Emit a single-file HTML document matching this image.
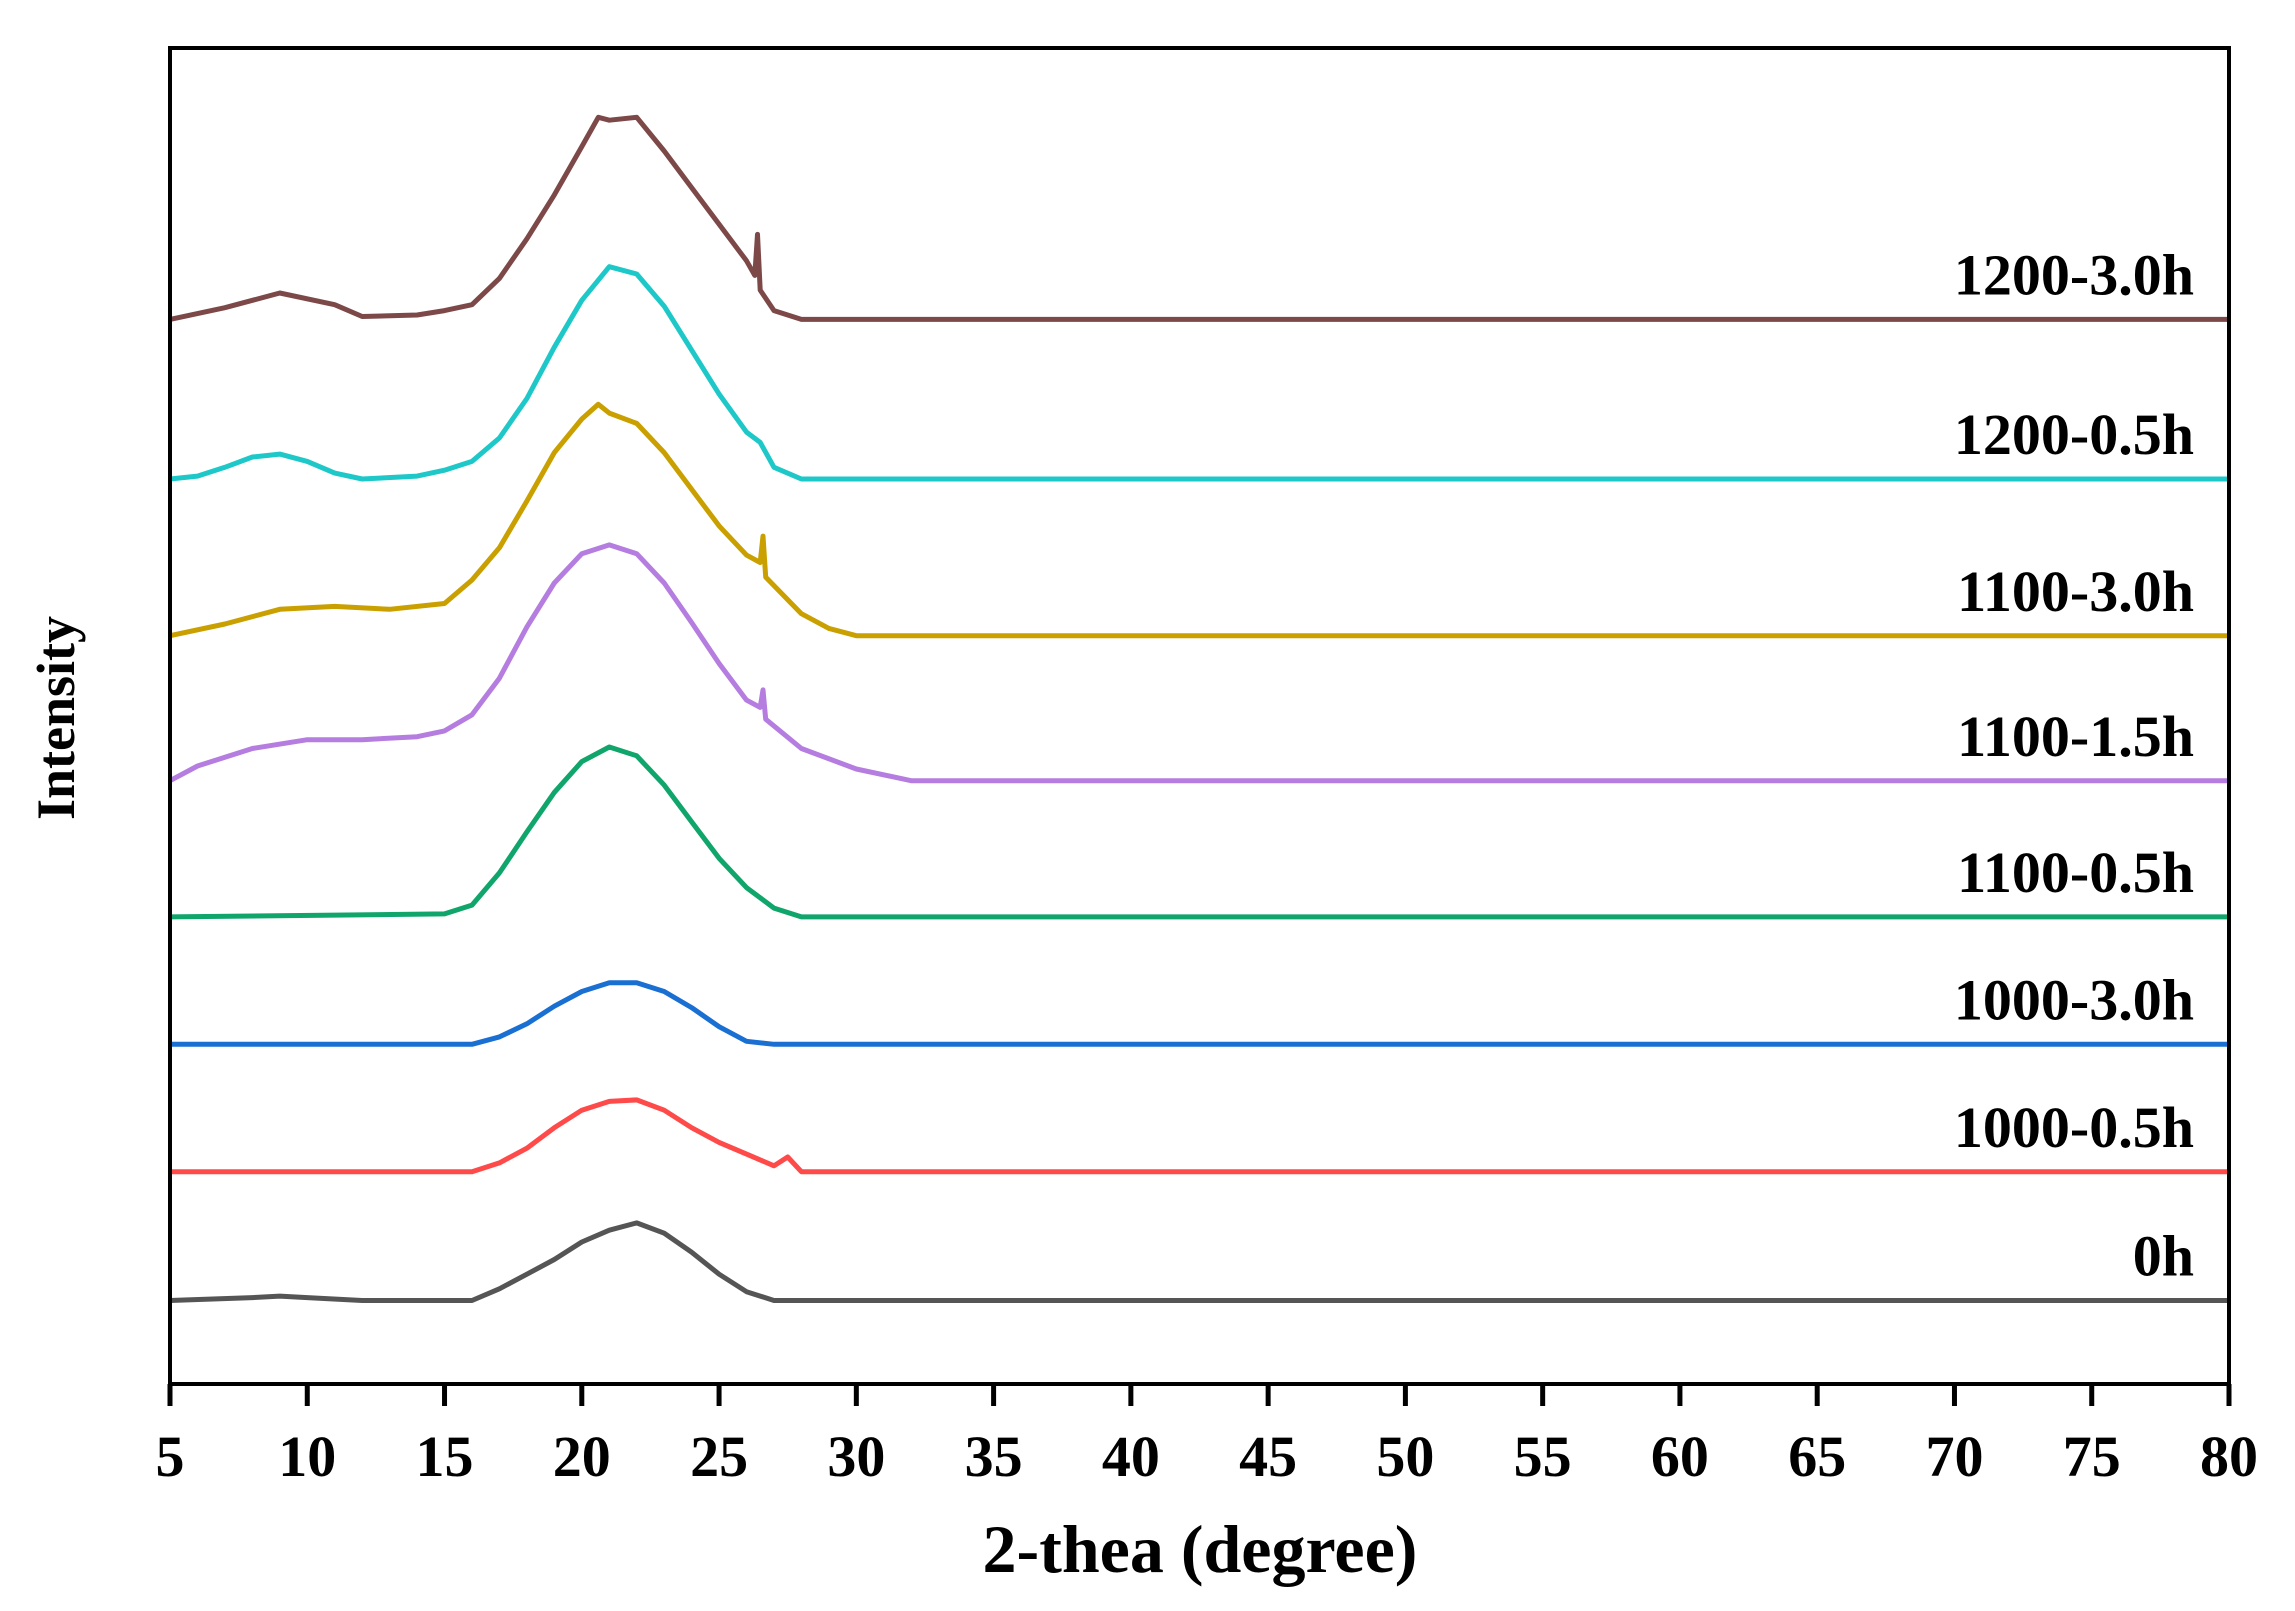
<!DOCTYPE html>
<html><head><meta charset="utf-8"><style>
html,body{margin:0;padding:0;background:#fff}
svg text{font-family:"Liberation Serif",serif;font-weight:bold;fill:#000}
</style></head><body>
<svg id="chart" width="2295" height="1606" viewBox="0 0 2295 1606" xmlns="http://www.w3.org/2000/svg">
<rect width="2295" height="1606" fill="#fff"/>
<g id="series"></g>
<g id="axes"></g>
</svg>
<script>
const xTicks=[5,10,15,20,25,30,35,40,45,50,55,60,65,70,75,80];
const seriesNames=["0h","1000-0.5h","1000-3.0h","1100-0.5h","1100-1.5h","1100-3.0h","1200-0.5h","1200-3.0h"];
const seriesColors=["#555555","#ff4a4a","#1a6fd2","#10a56a","#b57ddf","#c9a000","#1ec8c8","#7d4848"];
const seriesOffsets=[57,145,232,319,412,511,618,727];
const x0h=[5,8,9,10,12,16,17,18,19,20,21,22,23,24,25,26,27,80];
const y0h=[0,2,3,2,0,0,8,18,28,40,48,53,46,33,18,6,0,0];
const x1000a=[5,16,17,18,19,20,21,22,23,24,25,26,27,27.5,28,80];
const y1000a=[0,0,6,16,30,42,48,49,42,30,20,12,4,10,0,0];
const x1000b=[5,16,17,18,19,20,21,22,23,24,25,26,27,80];
const y1000b=[0,0,5,14,26,36,42,42,36,25,12,2,0,0];
const x1100a=[5,15,16,17,18,19,20,21,22,23,24,25,26,27,28,80];
const y1100a=[0,2,8,30,58,85,106,116,110,90,65,40,20,6,0,0];
const x1100b=[5,6,8,10,12,14,15,16,17,18,19,20,21,22,23,24,25,26,26.5,26.6,26.7,28,30,32,80];
const y1100b=[0,10,22,28,28,30,34,45,70,105,135,155,161,155,135,108,80,55,50,62,42,22,8,0,0];
const x1100c=[5,7,9,11,13,15,16,17,18,19,20,20.6,21,22,23,24,25,26,26.5,26.6,26.7,28,29,30,80];
const y1100c=[0,8,18,20,18,22,38,60,92,125,148,158,152,145,125,100,75,55,50,68,40,15,5,0,0];
const x1200a=[5,6,7,8,9,10,11,12,14,15,16,17,18,19,20,21,22,23,24,25,26,26.5,27,28,80];
const y1200a=[0,2,8,15,17,12,4,0,2,6,12,28,55,90,122,145,140,118,88,58,32,25,8,0,0];
const x1200b=[5,7,9,11,12,14,15,16,17,18,19,20,20.6,21,22,23,24,25,26,26.3,26.4,26.5,27,28,80];
const y1200b=[0,8,18,10,2,3,6,10,28,55,85,118,138,136,138,115,90,65,40,30,58,20,6,0,0];
const seriesX=[x0h,x1000a,x1000b,x1100a,x1100b,x1100c,x1200a,x1200b];
const seriesY=[y0h,y1000a,y1000b,y1100a,y1100b,y1100c,y1200a,y1200b];

const L=170,R=2229,T=48,B=1384,S=1.4644;
const xs=d=>L+(d-5)*(R-L)/75;
const ys=v=>B-v*S;
const NS="http://www.w3.org/2000/svg";
function mk(tag,attrs,parent){const e=document.createElementNS(NS,tag);for(const k in attrs)e.setAttribute(k,attrs[k]);parent.appendChild(e);return e;}
const sg=document.getElementById('series'), ag=document.getElementById('axes');
seriesNames.forEach((n,i)=>{
  const off=seriesOffsets[i];
  let d=seriesX[i].map((x,j)=>(j?'L':'M')+xs(x).toFixed(1)+','+ys(off+seriesY[i][j]).toFixed(1)).join('');
  const p=mk('path',{d:d,fill:'none',stroke:seriesColors[i],'stroke-width':5,'stroke-linejoin':'round'},sg);
  
  
  const t=mk('text',{x:2194,y:ys(off+17),'font-size':58,'text-anchor':'end'},sg);
  t.textContent=n;
  
  
});
const frame=mk('rect',{x:L,y:T,width:R-L,height:B-T,fill:'none',stroke:'#000','stroke-width':4},ag);


xTicks.forEach(v=>{
  const l=mk('line',{x1:xs(v),x2:xs(v),y1:B,y2:B+22,stroke:'#000','stroke-width':5},ag);
  
  
  const t=mk('text',{x:xs(v),y:B+92,'font-size':58,'text-anchor':'middle'},ag);
  t.textContent=v;
  
  
});
const xt=mk('text',{x:1200,y:1572,'font-size':68,'text-anchor':'middle'},ag);
xt.textContent='2-thea (degree)';


const yt=mk('text',{x:0,y:0,'font-size':54,'text-anchor':'middle',transform:'translate(74,718) rotate(-90)'},ag);
yt.textContent='Intensity';


</script>
</body></html>
